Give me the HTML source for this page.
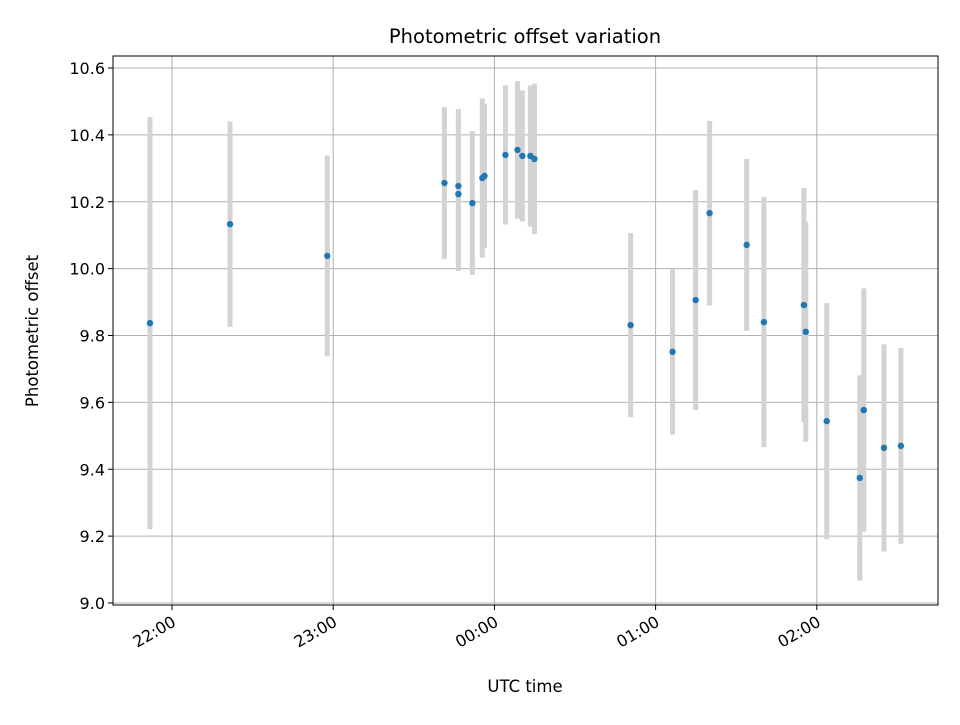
<!DOCTYPE html>
<html><head><meta charset="utf-8"><style>
body{margin:0;background:#fff;font-family:"Liberation Sans","DejaVu Sans",sans-serif}
svg text{font-family:"DejaVu Sans","Liberation Sans",sans-serif}
</style></head><body>
<svg id="chart" width="960" height="720" xmlns="http://www.w3.org/2000/svg">
<rect width="960" height="720" fill="#fff"/>
<text x="525" y="43" font-size="19.5" text-anchor="middle">Photometric offset variation</text>
<g id="grid"></g><g id="errs"></g><g id="pts"></g><g id="axes"></g>
<text x="525" y="692" font-size="16.5" text-anchor="middle">UTC time</text>
<text transform="translate(38,331) rotate(-90)" font-size="16.5" text-anchor="middle">Photometric offset</text>
</svg>
<script>
// minutes relative to 22:00 UTC
const times=[-8.2,21.6,57.8,101.4,106.6,106.6,111.8,115.5,116.3,124.1,128.6,130.4,133.4,134.9,170.7,186.3,194.9,200.1,213.9,220.3,235.2,235.9,243.7,256,257.5,265,271.3];
const values=[9.837,10.133,10.038,10.256,10.247,10.223,10.196,10.271,10.277,10.340,10.355,10.337,10.337,10.328,9.831,9.751,9.906,10.166,10.071,9.840,9.891,9.811,9.544,9.374,9.577,9.464,9.470];
const errors=[0.616,0.307,0.30,0.227,0.23,0.23,0.215,0.238,0.216,0.208,0.206,0.196,0.211,0.225,0.275,0.247,0.329,0.276,0.257,0.374,0.35,0.329,0.353,0.307,0.364,0.31,0.293];
const yTicks=[9.0,9.2,9.4,9.6,9.8,10.0,10.2,10.4,10.6];
const xTicks=[0,60,120,180,240];
const xTickLabels=["22:00","23:00","00:00","01:00","02:00"];
const L=113,R=938,T=56,B=605;
const xs=m=>172+m*(161.2/60);
const ys=v=>603-(v-9.0)*(535/1.6);
const NS="http://www.w3.org/2000/svg";
function mk(p,t,a){const e=document.createElementNS(NS,t);for(const k in a)e.setAttribute(k,a[k]);p.appendChild(e);return e;}
const grid=document.getElementById('grid'),axes=document.getElementById('axes'),errs=document.getElementById('errs'),pts=document.getElementById('pts');
yTicks.forEach(v=>{const y=ys(v);
 const g=mk(grid,'line',{x1:L,x2:R,y1:y,y2:y,stroke:'#b0b0b0','stroke-width':1});
 
 
 mk(axes,'line',{x1:L-5,x2:L,y1:y,y2:y,stroke:'#000'});
 const t=mk(axes,'text',{x:L-8,y:y+6,'font-size':16,'text-anchor':'end'});t.textContent=v.toFixed(1);
 
 
});
xTicks.forEach((m,i)=>{const x=xs(m);
 const g=mk(grid,'line',{x1:x,x2:x,y1:T,y2:B,stroke:'#b0b0b0','stroke-width':1});
 
 
 mk(axes,'line',{x1:x,x2:x,y1:B,y2:B+5,stroke:'#000'});
 const t=mk(axes,'text',{x:0,y:0,'font-size':16,'text-anchor':'end',transform:`translate(${x+5},${B+20}) rotate(-30)`});t.textContent=xTickLabels[i];
 
 
});
const frame=mk(axes,'rect',{x:L,y:T,width:R-L,height:B-T,fill:'none',stroke:'#000','stroke-width':1});


times.forEach((m,i)=>{const x=xs(m);
 const e=mk(errs,'line',{x1:x,x2:x,y1:ys(values[i]+errors[i]),y2:ys(values[i]-errors[i]),stroke:'#d3d3d3','stroke-width':5});
 
 
 const c=mk(pts,'circle',{cx:x,cy:ys(values[i]),r:3.2,fill:'#1f77b4'});
 
 
});
</script>
</body></html>
